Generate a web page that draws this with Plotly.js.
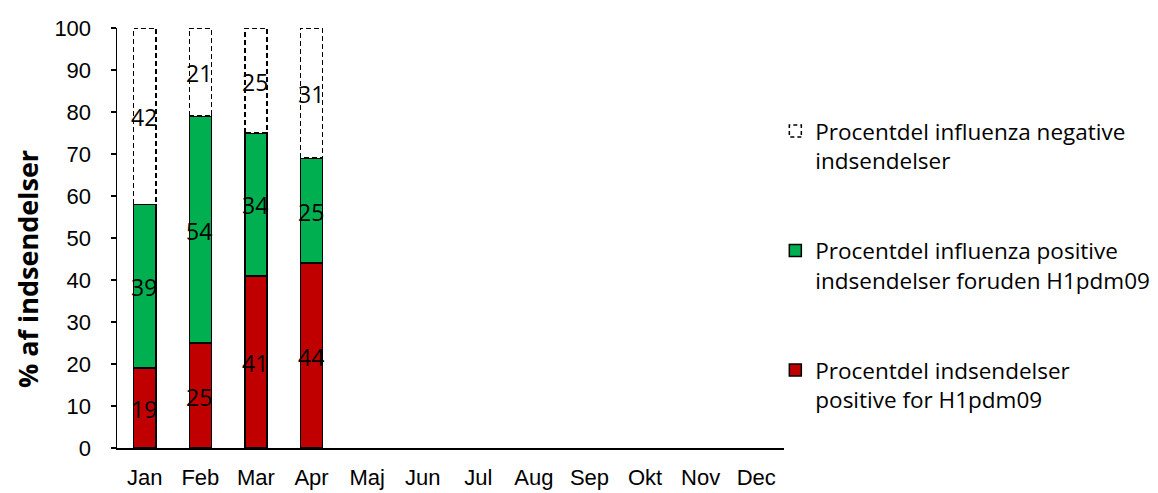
<!DOCTYPE html>
<html>
<head>
<meta charset="utf-8">
<script src="https://cdn.plot.ly/plotly-3.0.1.min.js"></script>
<style>
html,body{margin:0;padding:0;background:#fff;}
#chart{width:1158px;height:493px;}
</style>
</head>
<body>
<div id="chart"></div>
<script>
const months = ['Jan','Feb','Mar','Apr','Maj','Jun','Jul','Aug','Sep','Okt','Nov','Dec'];
const h1pdm09 = [19, 25, 41, 44];
const otherPositive = [39, 54, 34, 25];
const negative = [42, 21, 25, 31];
const seriesNames = [
  'Procentdel indsendelser<br>positive for H1pdm09',
  'Procentdel influenza positive<br>indsendelser foruden H1pdm09',
  'Procentdel influenza negative<br>indsendelser'
];
const yTicks = [0,10,20,30,40,50,60,70,80,90,100];
const yTitle = '% af indsendelser';

const pad = arr => months.map((m, i) => (i < arr.length ? arr[i] : null));

const barFont = {family: '"Open Sans", sans-serif', size: 23, color: '#000'};

const bars = [
  {y: h1pdm09, color: '#C00000'},
  {y: otherPositive, color: '#00B050'},
  {y: negative, color: '#FFFFFF'}
].map((s, k) => ({
  type: 'bar',
  x: months,
  y: pad(s.y),
  name: seriesNames[k],
  legendgroup: 'g' + k,
  legendrank: 3 - k,
  marker: {color: s.color, line: {color: '#000', width: 1.5}},
  hoverinfo: 'skip'
}));

// value labels at the middle of each stacked segment
const stacks = [h1pdm09, otherPositive, negative];
const labelAnnotations = [];
stacks.forEach((arr, k) => {
  arr.forEach((v, i) => {
    let base = 0;
    for (let j = 0; j < k; j++) base += stacks[j][i];
    labelAnnotations.push({
      x: months[i], y: base + v / 2, xref: 'x', yref: 'y',
      text: String(v), showarrow: false,
      xanchor: 'center', yanchor: 'middle',
      xshift: -1, yshift: -1,
      font: barFont
    });
  });
});

const tickFont = {family: '"Liberation Sans", Arial, sans-serif', size: 22, color: '#000'};

const layout = {
  width: 1158, height: 493,
  margin: {l: 117, r: 374, t: 28, b: 45, autoexpand: false},
  paper_bgcolor: '#fff', plot_bgcolor: '#fff',
  barmode: 'stack',
  bargap: 0.6,
  showlegend: true,
  xaxis: {
    type: 'category',
    categoryorder: 'array', categoryarray: months,
    range: [-0.5, 11.5],
    showline: true, linecolor: '#000', linewidth: 1.8,
    ticks: '', showgrid: false, zeroline: false,
    ticklabelstandoff: 9,
    tickfont: tickFont,
    fixedrange: true
  },
  yaxis: {
    range: [0, 100],
    tickvals: yTicks,
    showline: true, linecolor: '#000', linewidth: 1.5,
    ticks: 'outside', ticklen: 5, tickcolor: '#000', tickwidth: 1.5,
    ticklabelstandoff: 15,
    showgrid: false, zeroline: false,
    tickfont: tickFont,
    fixedrange: true
  },
  legend: {
    x: 0.987, xanchor: 'left',
    y: 0.805, yanchor: 'top',
    traceorder: 'grouped',
    font: {family: '"Open Sans", sans-serif', size: 22.5, color: '#000'},
    tracegroupgap: 58,
    valign: 'top',
    bgcolor: 'rgba(0,0,0,0)'
  },
  annotations: labelAnnotations.concat([{
    text: '<b>' + yTitle + '</b>',
    xref: 'paper', yref: 'paper',
    x: -0.1349, y: 0.426,
    xanchor: 'center', yanchor: 'middle',
    textangle: -90, showarrow: false,
    font: {family: '"Open Sans", "Noto Sans", sans-serif', size: 27, color: '#000'}
  }])
};

const gd = document.getElementById('chart');
Plotly.newPlot(gd, bars, layout, {displayModeBar: false, staticPlot: true}).then(() => {
  const barTraces = gd.querySelectorAll('.barlayer .trace');
  if (barTraces[2]) {
    barTraces[2].querySelectorAll('path').forEach(p => {
      p.style.strokeDasharray = '5px,3px';
    });
  }
  gd.querySelectorAll('.legend .traces').forEach(t => {
    if (t.textContent.indexOf('negative') >= 0) {
      t.querySelectorAll('.legendpoints path').forEach(p => {
        p.style.strokeDasharray = '4px,3px';
      });
    }
  });
});
</script>
</body>
</html>
